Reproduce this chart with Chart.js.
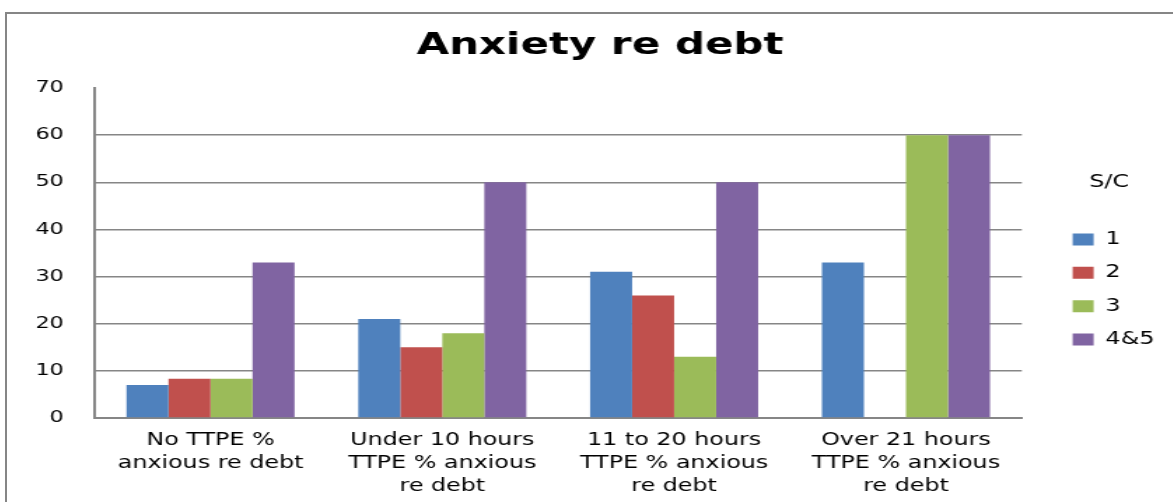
<!DOCTYPE html>
<html>
<head>
<meta charset="utf-8">
<script src="https://cdn.jsdelivr.net/npm/chart.js@4"></script>
<style>
  html, body { margin: 0; padding: 0; background: #fff; overflow: hidden; width: 1173px; height: 502px; }
  #frame { position: absolute; left: 5px; top: 12px; width: 1300px; height: 600px; border: 2px solid #868686; box-sizing: border-box; }
  #chart { position: absolute; left: 5px; top: 0; }
</style>
</head>
<body>
<div id="frame"></div>
<!-- drawn narrow and stretched sideways, like the original picture -->
<canvas id="chart" width="850" height="502" style="width:1190px;height:502px"></canvas>
<script>
const categories = [
    ['No TTPE %', 'anxious re debt'],
    ['Under 10 hours', 'TTPE % anxious', 're debt'],
    ['11 to 20 hours', 'TTPE % anxious', 're debt'],
    ['Over 21 hours', 'TTPE % anxious', 're debt']
];
const sc1 = [7, 21, 31, 33];
const sc2 = [8.3, 15, 26, null];
const sc3 = [8.3, 18, 13, 60];
const sc45 = [33, 50, 50, 60];
const yTicks = [0, 10, 20, 30, 40, 50, 60, 70];

const grey = '#868686';
const font = 'DejaVu Sans';

// legend sits a little away from the plot area, title stays centred on the whole frame
const nudge = {
    id: 'nudge',
    afterLayout(chart) {
        chart.legend.left += 20;
        chart.legend.right += 20;
        chart.titleBlock.left += 19.5;
        chart.titleBlock.right += 19.5;
    }
};

const config = {
    type: 'bar',
    data: {
        labels: categories,
        datasets: [
            { label: '1', data: sc1, backgroundColor: '#4F81BD' },
            { label: '2', data: sc2, backgroundColor: '#C0504D' },
            { label: '3', data: sc3, backgroundColor: '#9BBB59' },
            { label: '4&5', data: sc45, backgroundColor: '#8064A2' }
        ]
    },
    options: {
        responsive: false,
        animation: false,
        devicePixelRatio: 1,
        layout: { padding: { left: 0, right: 39, top: 0, bottom: 0 } },
        datasets: { bar: { categoryPercentage: 0.725, barPercentage: 1 } },
        scales: {
            x: {
                grid: { display: false, drawTicks: false },
                border: { color: grey, width: 2 },
                ticks: { color: '#000', padding: 11, maxRotation: 0, autoSkip: false, font: { family: font, size: 17, lineHeight: 1.35 } },
                afterFit: s => { s.height = 84; }
            },
            y: {
                min: 0,
                max: 70,
                afterBuildTicks: s => { s.ticks = yTicks.map(v => ({ value: v })); },
                grid: {
                    drawTicks: false,
                    lineWidth: 1.5,
                    color: c => (c.tick && c.tick.value === 70) ? 'rgba(0,0,0,0)' : grey
                },
                border: { color: grey, width: 2 },
                ticks: { color: '#000', padding: 22, font: { family: font, size: 16 } },
                afterFit: s => { s.width = 64; }
            }
        },
        plugins: {
            title: {
                display: true,
                text: 'Anxiety re debt',
                color: '#000',
                font: { family: font, size: 30, weight: 'bold' },
                padding: { top: 28, bottom: 24 }
            },
            legend: {
                position: 'right',
                title: {
                    display: true,
                    text: 'S/C',
                    color: '#000',
                    font: { family: font, size: 17 },
                    padding: { top: 36, bottom: 20.6 }
                },
                labels: {
                    color: '#000',
                    boxWidth: 15,
                    boxHeight: 12,
                    padding: 16.3,
                    font: { family: font, size: 17 }
                }
            },
            tooltip: { enabled: false }
        }
    },
    plugins: [nudge]
};

const ctx = document.getElementById('chart').getContext('2d');
new Chart(ctx, config);
</script>
</body>
</html>
